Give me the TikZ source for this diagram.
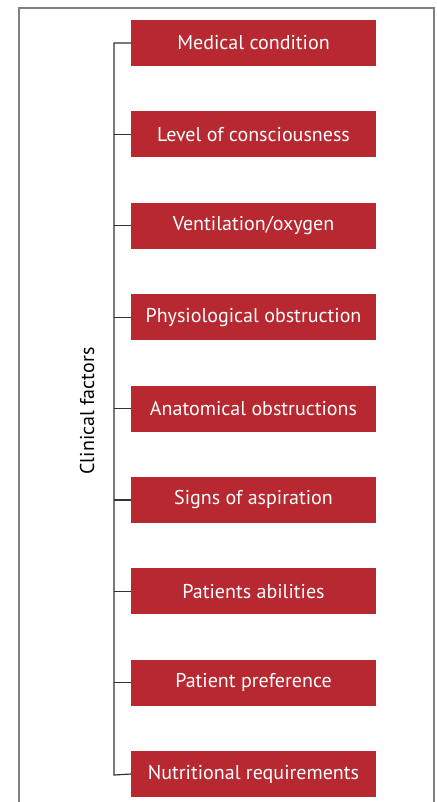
\documentclass[tikz,border=0pt]{standalone}
\usepackage{fontspec}
\setmainfont{PT Sans}
\definecolor{boxred}{HTML}{B72830}
\definecolor{linegray}{HTML}{333333}
\begin{document}
\begin{tikzpicture}[x=1pt,y=-1pt,
    factor/.style={rectangle, fill=boxred, text=white, minimum width=245pt, minimum height=46pt, inner sep=0pt, font=\fontsize{20}{22}\selectfont},
    branch/.style={draw=linegray, line width=1.2pt}]
        \useasboundingbox (0,0) rectangle (436,802);
        \draw[gray, line width=1.2pt] (19,802) -- (19,8) -- (434,8) -- (434,802);
        \node at (253.5,43) [factor] (m1) {Medical condition};
        \node at (253.5,134.4) [factor] (m2) {Level of consciousness};
        \node at (253.5,225.8) [factor] (m3) {Ventilation/oxygen};
        \node at (253.5,317.1) [factor] (m4) {Physiological obstruction};
        \node at (253.5,408.5) [factor] (m5) {Anatomical obstructions};
        \node at (253.5,499.9) [factor] (m6) {Signs of aspiration};
        \node at (253.5,591.3) [factor] (m7) {Patients abilities};
        \node at (253.5,682.6) [factor] (m8) {Patient preference};
        \node at (253.5,774) [factor] (m9) {Nutritional requirements};
        \node at (87,411) [rotate=90, font=\fontsize{20}{22}\selectfont] (cf) {Clinical factors};
        \coordinate (top) at (114,44);
        \coordinate (bot) at (114,775);
        \draw[branch] (m1.west) -- (m1.west -| top) -- (bot) -- (m9.west);
        \draw[branch] (m2.west) -- (m2.west -| top);
        \draw[branch] (m3.west) -- (m3.west -| top);
        \draw[branch] (m4.west) -- (m4.west -| top);
        \draw[branch] (m5.west) -- (m5.west -| top);
        \draw[branch] (m6.west) -- (m6.west -| top);
        \draw[branch] (m7.west) -- (m7.west -| top);
        \draw[branch] (m8.west) -- (m8.west -| top);
\end{tikzpicture}
\end{document}
